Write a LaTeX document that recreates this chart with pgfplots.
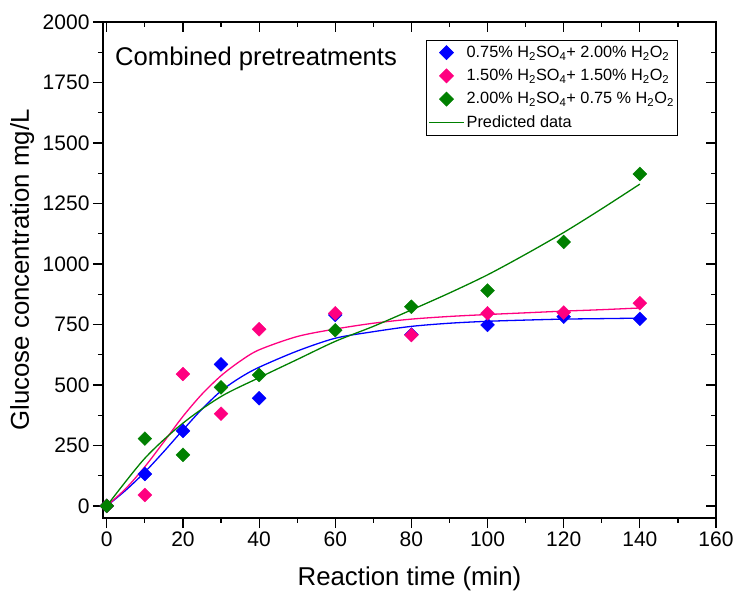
\documentclass[border=0pt]{standalone}
\usepackage{fontspec}
\setmainfont{Liberation Sans}
\usepackage{pgfplots}
\pgfplotsset{compat=1.18}
\definecolor{cblue}{RGB}{0,0,255}
\definecolor{cpink}{RGB}{255,0,128}
\definecolor{cgreen}{RGB}{0,128,0}
\begin{document}
\begin{tikzpicture}
\useasboundingbox (-103pt,-79pt) rectangle (634pt,518pt);
\pgfplotsset{common/.style={
  scale only axis, width=613pt, height=496pt,
  at={(0,0)}, anchor=south west,
  xmin=-1, xmax=160, ymin=-50, ymax=2000,
  xtick={0,20,...,160}, ytick={0,250,...,2000},
  minor x tick num=1, minor y tick num=1,
  major tick length=10pt, minor tick length=5pt,
  axis line style={line width=1.3pt},
  tick style={line width=1.2pt, black},
  tick label style={font=\fontsize{21}{25}\selectfont},
  /pgf/number format/assume math mode=true,
  /pgf/number format/1000 sep={},
}}
\begin{axis}[common, xtick pos=right, ytick pos=right, tick align=inside,
  xticklabels={}, yticklabels={}]
\end{axis}
\begin{axis}[common, xtick pos=left, ytick pos=left, tick align=outside,
  xlabel={Reaction time (min)}, ylabel={Glucose concentration mg/L},
  label style={font=\fontsize{25.8}{30}\selectfont},
  xlabel style={at={(axis description cs:0.5,-0.122)}, anchor=center},
  ylabel style={at={(axis description cs:-0.132,0.5)}, anchor=center},
  legend style={at={(axis description cs:0.527,0.964)}, anchor=north west,
    draw=black, line width=0.8pt, font=\fontsize{16.3}{19.5}\selectfont,
    row sep=6.3pt, inner xsep=2pt, inner ysep=4pt, cells={anchor=west}},
  legend image code/.code={\draw[mark repeat=2,mark phase=2] plot coordinates {(0pt,0pt)(17.5pt,0pt)(35pt,0pt)};},
  mark size=4.9pt,
]
% fitted curves
\addplot[cblue, line width=1.3pt, smooth, forget plot] coordinates {
(0,0)(5,65)(10,140)(15,225)(20,314)(25,400)(30,475)(35,530)(40,573)(50,640)(60,693)(70,720)(80,742)(90,755)(100,763)(110,768)(120,772)(130,774)(140,776)};
\addplot[cpink, line width=1.3pt, smooth, forget plot] coordinates {
(0,0)(5,72)(10,162)(15,265)(20,370)(25,462)(30,538)(35,598)(40,645)(50,700)(60,731)(70,755)(80,772)(90,783)(100,791)(110,798)(120,805)(130,811)(140,818)};
\addplot[cgreen, line width=1.3pt, smooth, forget plot] coordinates {
(0,0)(10,197)(20,342)(30,452)(40,530)(50,605)(60,680)(70,742)(80,810)(90,880)(100,955)(110,1040)(120,1130)(130,1228)(140,1330)};
% data
\addplot[only marks, mark=square*, mark options={rotate=45, fill=cblue, draw=cblue}] coordinates {
(0,0)(10,132)(20,310)(30,585)(40,445)(60,789)(80,708)(100,748)(120,782)(140,773)};
\addlegendentry{0.75\% H\textsubscript{2}SO\textsubscript{4}+ 2.00\% H\textsubscript{2}O\textsubscript{2}}
\addplot[only marks, mark=square*, mark options={rotate=45, fill=cpink, draw=cpink}] coordinates {
(0,0)(10,45)(20,545)(30,381)(40,730)(60,796)(80,706)(100,796)(120,799)(140,838)};
\addlegendentry{1.50\% H\textsubscript{2}SO\textsubscript{4}+ 1.50\% H\textsubscript{2}O\textsubscript{2}}
\addplot[only marks, mark=square*, mark options={rotate=45, fill=cgreen, draw=cgreen}] coordinates {
(0,0)(10,278)(20,211)(30,490)(40,541)(60,726)(80,823)(100,890)(120,1091)(140,1372)};
\addlegendentry{2.00\% H\textsubscript{2}SO\textsubscript{4}+ 0.75 \% H\textsubscript{2}O\textsubscript{2}}
\addlegendimage{legend image code/.code={\draw[cgreen, line width=1.2pt] (0pt,0pt) -- (35pt,0pt);}}
\addlegendentry{Predicted data}
\node[anchor=base west, inner sep=0pt, font=\fontsize{25.6}{30}\selectfont] at (axis description cs:0.0196,0.912) {Combined pretreatments};
\end{axis}
\end{tikzpicture}
\end{document}
